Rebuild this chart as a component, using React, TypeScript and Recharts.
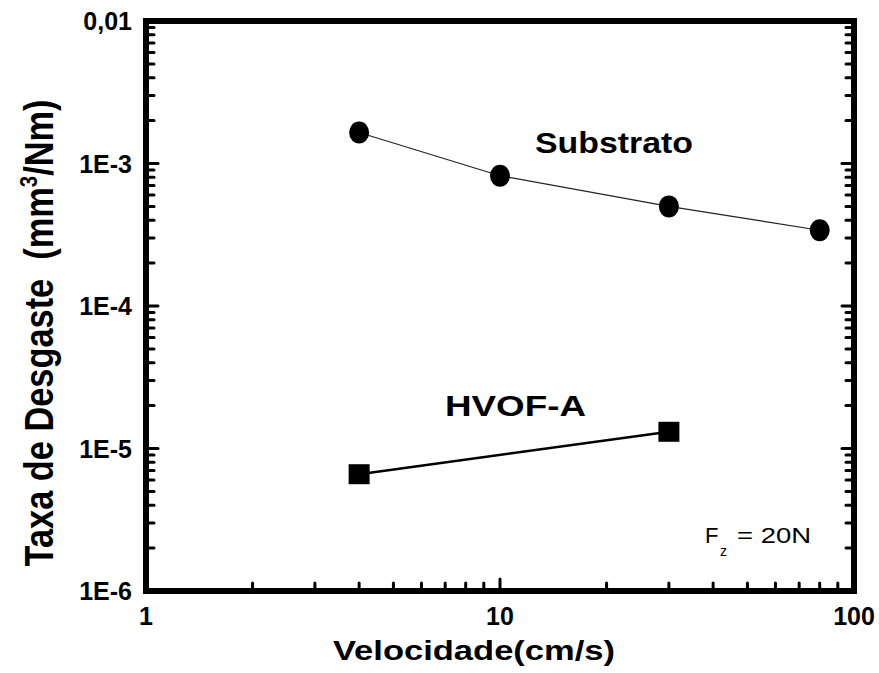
import { ScatterChart, Scatter, XAxis, YAxis } from "recharts"

// velocidade (cm/s) e taxa de desgaste (mm3/Nm)
const velocidadeSubstrato = [4, 10, 30, 80]
const taxaSubstrato = [1.65e-3, 8.2e-4, 5.0e-4, 3.4e-4]
const velocidadeHvof = [4, 30]
const taxaHvof = [6.6e-6, 1.31e-5]

const xMajorTicks = [1, 10, 100]
const xMajorLabels = ["1", "10", "100"]
const yMajorTicks = [1e-6, 1e-5, 1e-4, 1e-3, 1e-2]
const yMajorLabels = ["1E-6", "1E-5", "1E-4", "1E-3", "0,01"]
const minorSteps = [2, 3, 4, 5, 6, 7, 8, 9]

const FONT = "'Liberation Sans', Arial, sans-serif"

const xTicks = [
  ...xMajorTicks,
  ...xMajorTicks.slice(0, -1).flatMap((d) => minorSteps.map((m) => m * d)),
]
const yTicks = [
  ...yMajorTicks,
  ...yMajorTicks.slice(0, -1).flatMap((d) => minorSteps.map((m) => m * d)),
]

const substratoData = velocidadeSubstrato.map((x, i) => ({ x, y: taxaSubstrato[i] }))
const hvofData = velocidadeHvof.map((x, i) => ({ x, y: taxaHvof[i] }))

function majorIndex(v: number, majors: number[]) {
  return majors.findIndex((m) => Math.abs(v / m - 1) < 1e-6)
}

const MAJOR = 12
const MINOR = 8

const BottomTick = (props: any) => {
  const { x, y, payload } = props
  const idx = majorIndex(payload.value, xMajorTicks)
  return (
    <g>
      <line x1={x} x2={x} y1={y} y2={y - (idx >= 0 ? MAJOR : MINOR)} stroke="#000" strokeWidth={3} strokeLinecap="round" />
      {idx >= 0 && (
        <text x={x} y={y + 34} textAnchor="middle" fontFamily={FONT} fontWeight="bold" fontSize={25} fill="#000">
          {xMajorLabels[idx]}
        </text>
      )}
    </g>
  )
}

const TopTick = (props: any) => {
  const { x, y, payload } = props
  const idx = majorIndex(payload.value, xMajorTicks)
  return <line x1={x} x2={x} y1={y} y2={y + (idx >= 0 ? MAJOR : MINOR)} stroke="#000" strokeWidth={3} strokeLinecap="round" />
}

const LeftTick = (props: any) => {
  const { x, y, payload } = props
  const idx = majorIndex(payload.value, yMajorTicks)
  return (
    <g>
      <line x1={x} x2={x + (idx >= 0 ? MAJOR : MINOR)} y1={y} y2={y} stroke="#000" strokeWidth={3} strokeLinecap="round" />
      {idx >= 0 && (
        <text x={x - 14} y={y + 9} textAnchor="end" fontFamily={FONT} fontWeight="bold" fontSize={25} fill="#000">
          {yMajorLabels[idx]}
        </text>
      )}
    </g>
  )
}

const RightTick = (props: any) => {
  const { x, y, payload } = props
  const idx = majorIndex(payload.value, yMajorTicks)
  return <line x1={x} x2={x - (idx >= 0 ? MAJOR : MINOR)} y1={y} y2={y} stroke="#000" strokeWidth={3} strokeLinecap="round" />
}

const axisLine = { stroke: "#000", strokeWidth: 6, strokeLinecap: "square" as const }

export default function App() {
  return (
    <div style={{ position: "absolute", left: 0, top: 0, width: 879, height: 673, background: "#fff" }}>
      <ScatterChart width={879} height={673} margin={{ top: 0, right: 0, bottom: 0, left: 0 }}>
        <XAxis
          xAxisId="bottom"
          dataKey="x"
          type="number"
          scale="log"
          domain={[1, 100]}
          allowDataOverflow
          ticks={xTicks}
          interval={0}
          height={82}
          tickSize={0}
          tickMargin={0}
          tickLine={false}
          axisLine={axisLine}
          tick={BottomTick}
        />
        <XAxis
          xAxisId="top"
          orientation="top"
          type="number"
          scale="log"
          domain={[1, 100]}
          allowDataOverflow
          ticks={xTicks}
          interval={0}
          height={21}
          tickSize={0}
          tickMargin={0}
          tickLine={false}
          axisLine={axisLine}
          tick={TopTick}
        />
        <YAxis
          yAxisId="left"
          dataKey="y"
          type="number"
          scale="log"
          domain={[1e-6, 1e-2]}
          allowDataOverflow
          ticks={yTicks}
          interval={0}
          width={146}
          tickSize={0}
          tickMargin={0}
          tickLine={false}
          axisLine={axisLine}
          tick={LeftTick}
        />
        <YAxis
          yAxisId="right"
          orientation="right"
          type="number"
          scale="log"
          domain={[1e-6, 1e-2]}
          allowDataOverflow
          ticks={yTicks}
          interval={0}
          width={25}
          tickSize={0}
          tickMargin={0}
          tickLine={false}
          axisLine={axisLine}
          tick={RightTick}
        />
        <Scatter
          name="Substrato"
          data={substratoData}
          xAxisId="bottom"
          yAxisId="left"
          line={{ stroke: "#222", strokeWidth: 1.2 }}
          lineType="joint"
          isAnimationActive={false}
          shape={(p: any) => <ellipse cx={p.cx} cy={p.cy} rx={10} ry={11} fill="#000" />}
        />
        <Scatter
          name="HVOF-A"
          data={hvofData}
          xAxisId="bottom"
          yAxisId="left"
          line={{ stroke: "#000", strokeWidth: 2.5 }}
          lineType="joint"
          isAnimationActive={false}
          shape={(p: any) => <rect x={p.cx - 10.5} y={p.cy - 10} width={21} height={20} fill="#000" />}
        />
      </ScatterChart>
      <svg width={879} height={673} style={{ position: "absolute", left: 0, top: 0, pointerEvents: "none" }}>
        <g fontFamily={FONT} fill="#000">
          <text x={474} y={660} textAnchor="middle" fontWeight="bold" fontSize={28} textLength={282} lengthAdjust="spacingAndGlyphs">
            Velocidade(cm/s)
          </text>
          <g transform="translate(53,333) scale(1.25,1) rotate(-90)">
            <text x={0} y={0} textAnchor="middle" fontWeight="bold" fontSize={32} textLength={467} lengthAdjust="spacingAndGlyphs">
              Taxa de Desgaste{"\u00a0\u00a0"}(mm
              <tspan dy={-13} fontSize={19}>3</tspan>
              <tspan dy={13}>/Nm)</tspan>
            </text>
          </g>
          <text x={535} y={153} fontWeight="bold" fontSize={29} textLength={158} lengthAdjust="spacingAndGlyphs">
            Substrato
          </text>
          <text x={445} y={416} fontWeight="bold" fontSize={29} textLength={141} lengthAdjust="spacingAndGlyphs">
            HVOF-A
          </text>
          <text x={705} y={543} fontSize={22}>F</text>
          <text x={720} y={556} fontSize={14}>z</text>
          <text x={737} y={543} fontSize={22} textLength={74} lengthAdjust="spacingAndGlyphs">
            = 20N
          </text>
        </g>
      </svg>
    </div>
  )
}
